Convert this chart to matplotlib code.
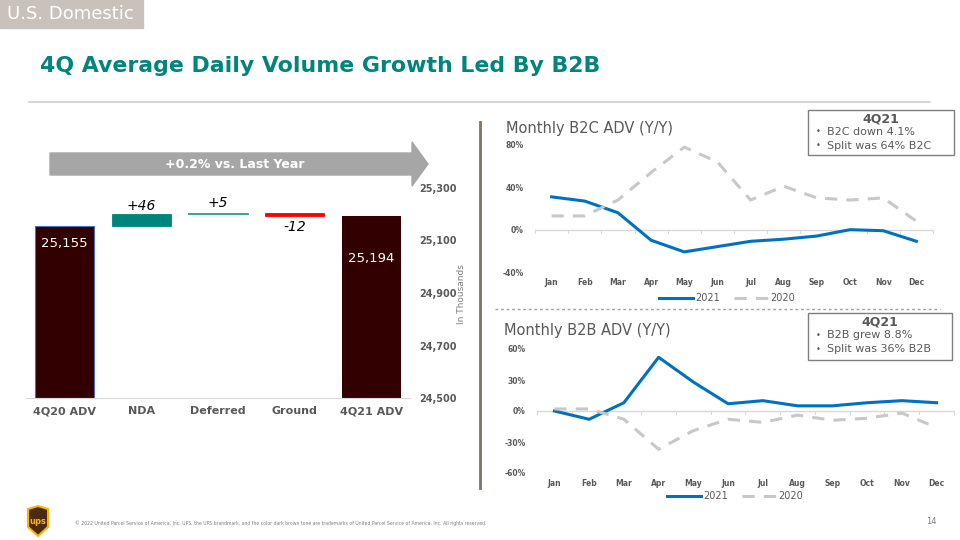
import matplotlib.pyplot as plt
from matplotlib.patches import Rectangle, Polygon

# waterfall data (in thousands)
wf_labels = ["4Q20 ADV", "NDA", "Deferred", "Ground", "4Q21 ADV"]
start_adv = 25155
changes = [46, 5, -12]
end_adv = 25194
wf_ticks = [24500, 24700, 24900, 25100, 25300]

months = ["Jan", "Feb", "Mar", "Apr", "May", "Jun", "Jul", "Aug", "Sep", "Oct", "Nov", "Dec"]
b2c_2021 = [31, 27, 16, -10, -21, -16, -11, -9, -6, 0, -1, -11]
b2c_2020 = [13, 13, 28, 54, 78, 64, 28, 41, 30, 28, 30, 8]
b2b_2021 = [0, -8, 8, 52, 28, 7, 10, 5, 5, 8, 10, 8]
b2b_2020 = [2, 2, -8, -37, -19, -8, -11, -4, -9, -7, -2, -16]

GRAY_TXT = "#595959"
TEAL = "#00857D"
DARK = "#330000"
BLUE = "#0070C0"
LGRAY = "#C8C8C8"

W, H = 960, 540
fig = plt.figure(figsize=(9.6, 5.4), dpi=100)


def box(x0, y0, x1, y1):
    # pixel box (top-left origin) -> figure rect
    return [x0 / W, 1 - y1 / H, (x1 - x0) / W, (y1 - y0) / H]


# header
fig.patches.append(Rectangle((0, 1 - 28 / H), 143 / W, 28 / H, transform=fig.transFigure,
                             color="#C9C2BC", zorder=0))
fig.text(7 / W, 1 - 14 / H, "U.S. Domestic", color="white", fontsize=13, va="center")
fig.text(40 / W, 1 - 66 / H, "4Q Average Daily Volume Growth Led By B2B", color=TEAL,
         fontsize=15.8, fontweight="bold", va="center")
fig.add_artist(plt.Line2D([29 / W, 930 / W], [1 - 102 / H] * 2, color="#D0D0D0", lw=1.2))

# vertical divider
fig.add_artist(plt.Line2D([480 / W] * 2, [1 - 122 / H, 1 - 488 / H], color="#7F7266", lw=2))
# dashed separator between right charts
fig.add_artist(plt.Line2D([495 / W, 940 / W], [1 - 309 / H] * 2, color="#A0A0A0", lw=1,
                          ls=(0, (2, 2))))

# ---------------- waterfall ----------------
ax = fig.add_axes(box(26, 188, 410, 398))
levels = [start_adv]
for c in changes:
    levels.append(levels[-1] + c)
bw = 0.77
ax.bar(0, start_adv - wf_ticks[0], bottom=wf_ticks[0], width=bw, color=DARK,
       edgecolor="#4472C4", linewidth=0.8)
ax.bar(4, end_adv - wf_ticks[0], bottom=wf_ticks[0], width=bw, color=DARK)
chg_colors = [TEAL, "#2A9D96", "#FF0000"]
for i, c in enumerate(changes):
    lo = min(levels[i], levels[i + 1])
    h = max(abs(c), 4)
    ax.bar(i + 1, h, bottom=lo, width=bw, color=chg_colors[i], edgecolor=chg_colors[i],
           linewidth=0.6)
ax.text(0, start_adv - 68, f"{start_adv:,}", color="white", ha="center", va="center", fontsize=9.5)
ax.text(4, end_adv - 164, f"{end_adv:,}", color="white", ha="center", va="center", fontsize=9.5)
ax.text(1, levels[1] + 5, f"+{changes[0]}", ha="center", va="bottom", fontsize=10, style="italic")
ax.text(2, levels[2] + 10, f"+{changes[1]}", ha="center", va="bottom", fontsize=10, style="italic")
ax.text(3, levels[3] - 16, f"{changes[2]}", ha="center", va="top", fontsize=10, style="italic")
ax.set_xlim(-0.5, 4.5)
ax.set_ylim(wf_ticks[0], wf_ticks[-1])
ax.set_xticks(range(5))
ax.set_xticklabels(wf_labels, fontsize=8, fontweight="bold", color=GRAY_TXT)
ax.set_yticks(wf_ticks)
ax.set_yticklabels([f"{t:,}" for t in wf_ticks], fontsize=7, fontweight="bold", color=GRAY_TXT)
ax.yaxis.tick_right()
ax.tick_params(length=0, axis="y", pad=7)
ax.tick_params(length=0, axis="x", pad=6)
for s in ["top", "left", "right"]:
    ax.spines[s].set_visible(False)
ax.spines["bottom"].set_color("#D9D9D9")
fig.text(462 / W, 1 - 294 / H, "In Thousands", rotation=90, fontsize=6.5, color="#7F7F7F",
         ha="center", va="center")

# arrow
fig.patches.append(Polygon([(50 / W, 1 - 153 / H), (412 / W, 1 - 153 / H), (412 / W, 1 - 142 / H),
                            (428 / W, 1 - 164 / H), (412 / W, 1 - 186 / H), (412 / W, 1 - 175 / H),
                            (50 / W, 1 - 175 / H)], closed=True, transform=fig.transFigure,
                           color="#A6A6A6"))
fig.text(235 / W, 1 - 164 / H, "+0.2% vs. Last Year", color="white", fontsize=9,
         fontweight="bold", ha="center", va="center")


# ---------------- line charts ----------------
def line_chart(rect, s21, s20, ylim, yticks, title, tpos, legy, legx, box_rect, lines):
    a = fig.add_axes(rect)
    x = range(len(months))
    a.plot(x, s21, color=BLUE, lw=2.2, label="2021")
    a.plot(x, s20, color=LGRAY, lw=2.2, ls=(0, (4, 3)), label="2020")
    a.set_xlim(-0.5, 11.5)
    a.set_ylim(*ylim)
    a.set_yticks(yticks)
    a.set_yticklabels([f"{t}%" for t in yticks], fontsize=5.5, fontweight="bold", color=GRAY_TXT)
    a.set_xticks(range(12))
    a.set_xticklabels(months, fontsize=5.5, fontweight="bold", color=GRAY_TXT)
    a.tick_params(axis="y", length=0, pad=8)
    a.tick_params(axis="x", length=0, pad=4)
    a.axhline(0, color="#D9D9D9", lw=1, zorder=0)
    for k in range(13):
        a.plot([k - 0.5] * 2, [0, -(ylim[1] - ylim[0]) * 0.025], color="#D9D9D9", lw=0.8,
               clip_on=False, zorder=0)
    for s in a.spines.values():
        s.set_visible(False)
    fig.text(tpos[0] / W, 1 - tpos[1] / H, title, fontsize=10.5, color=GRAY_TXT, va="center")
    leg = a.legend(loc="center", bbox_to_anchor=(legx / W, 1 - legy / H), bbox_transform=fig.transFigure,
                   ncol=2, frameon=False, fontsize=7, handlelength=3.5, columnspacing=1.5,
                   handletextpad=0.2)
    for t in leg.get_texts():
        t.set_color(GRAY_TXT)
    bx0, by0, bx1, by1 = box_rect
    fig.patches.append(Rectangle((bx0 / W, 1 - by1 / H), (bx1 - bx0) / W, (by1 - by0) / H,
                                 transform=fig.transFigure, fill=False, edgecolor="#7F7F7F", lw=1))
    cx = (bx0 + bx1) / 2
    fig.text(cx / W, 1 - (by0 + 9) / H, "4Q21", fontsize=9, fontweight="bold", color=GRAY_TXT,
             ha="center", va="center")
    for j, ln in enumerate(lines):
        yy = by0 + 22 + j * 14
        fig.text((bx0 + 8) / W, 1 - yy / H, "\u2022", fontsize=6, color=GRAY_TXT, va="center")
        fig.text((bx0 + 19) / W, 1 - yy / H, ln, fontsize=8, color=GRAY_TXT, va="center")
    return a


line_chart(box(535, 145, 933, 272), b2c_2021, b2c_2020, (-40, 80), [-40, 0, 40, 80],
           "Monthly B2C ADV (Y/Y)", (506, 128), 298, 727, (808, 110, 954, 155),
           ["B2C down 4.1%", "Split was 64% B2C"])
line_chart(box(537, 349, 954, 473), b2b_2021, b2b_2020, (-60, 60), [-60, -30, 0, 30, 60],
           "Monthly B2B ADV (Y/Y)", (504, 331), 496, 735, (808, 313, 952, 360),
           ["B2B grew 8.8%", "Split was 36% B2B"])

# footer
fig.patches.append(Polygon([(28 / W, 1 - 509 / H), (38 / W, 1 - 506 / H), (48 / W, 1 - 509 / H),
                            (48 / W, 1 - 527 / H), (38 / W, 1 - 536 / H), (28 / W, 1 - 527 / H)],
                           closed=True, transform=fig.transFigure, facecolor="#4B2A14",
                           edgecolor="#FFB500", lw=1.5))
fig.text(38 / W, 1 - 522 / H, "ups", color="#FFB500", fontsize=6, fontweight="bold",
         ha="center", va="center")
fig.text(75 / W, 1 - 523 / H,
         "\u00a9 2022 United Parcel Service of America, Inc. UPS, the UPS brandmark, and the color dark brown "
         "tone are trademarks of United Parcel Service of America, Inc. All rights reserved.",
         fontsize=3.3, color="#7F7F7F", va="center")
fig.text(926 / W, 1 - 522 / H, "14", fontsize=6, color="#7F7F7F", va="center")

fig.savefig("out.png", dpi=100)
